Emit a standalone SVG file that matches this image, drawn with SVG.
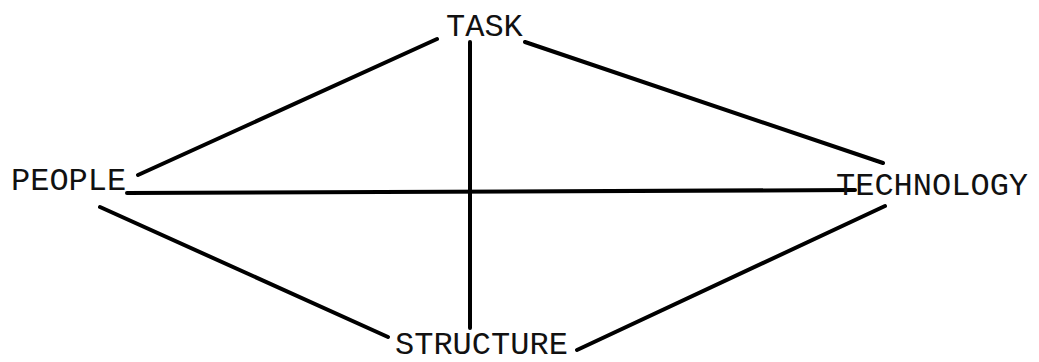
<svg xmlns="http://www.w3.org/2000/svg" width="1039" height="362" viewBox="0 0 1039 362">
<style>
.lbl{font-family:"Liberation Mono","Courier New",monospace;font-size:32px;fill:#111;}
.edge{stroke:#000;stroke-width:4;stroke-linecap:round;fill:none;}
</style>
<rect width="1039" height="362" fill="#fff"/>
<g id="connectors">
<line class="edge" x1="138" y1="175" x2="437" y2="39"/>
<line class="edge" x1="525" y1="42" x2="883" y2="163"/>
<line class="edge" x1="470" y1="42" x2="470" y2="328"/>
<line class="edge" x1="127" y1="193" x2="855" y2="190"/>
<line class="edge" x1="100" y1="207" x2="388" y2="337"/>
<line class="edge" x1="577" y1="350" x2="885" y2="206"/>
</g>
<g id="task"><text class="lbl" x="446" y="36">TASK</text></g>
<g id="people"><text class="lbl" x="11" y="190">PEOPLE</text></g>
<g id="technology"><text class="lbl" x="836" y="195">TECHNOLOGY</text></g>
<g id="structure"><text class="lbl" x="395" y="354">STRUCTURE</text></g>
</svg>
